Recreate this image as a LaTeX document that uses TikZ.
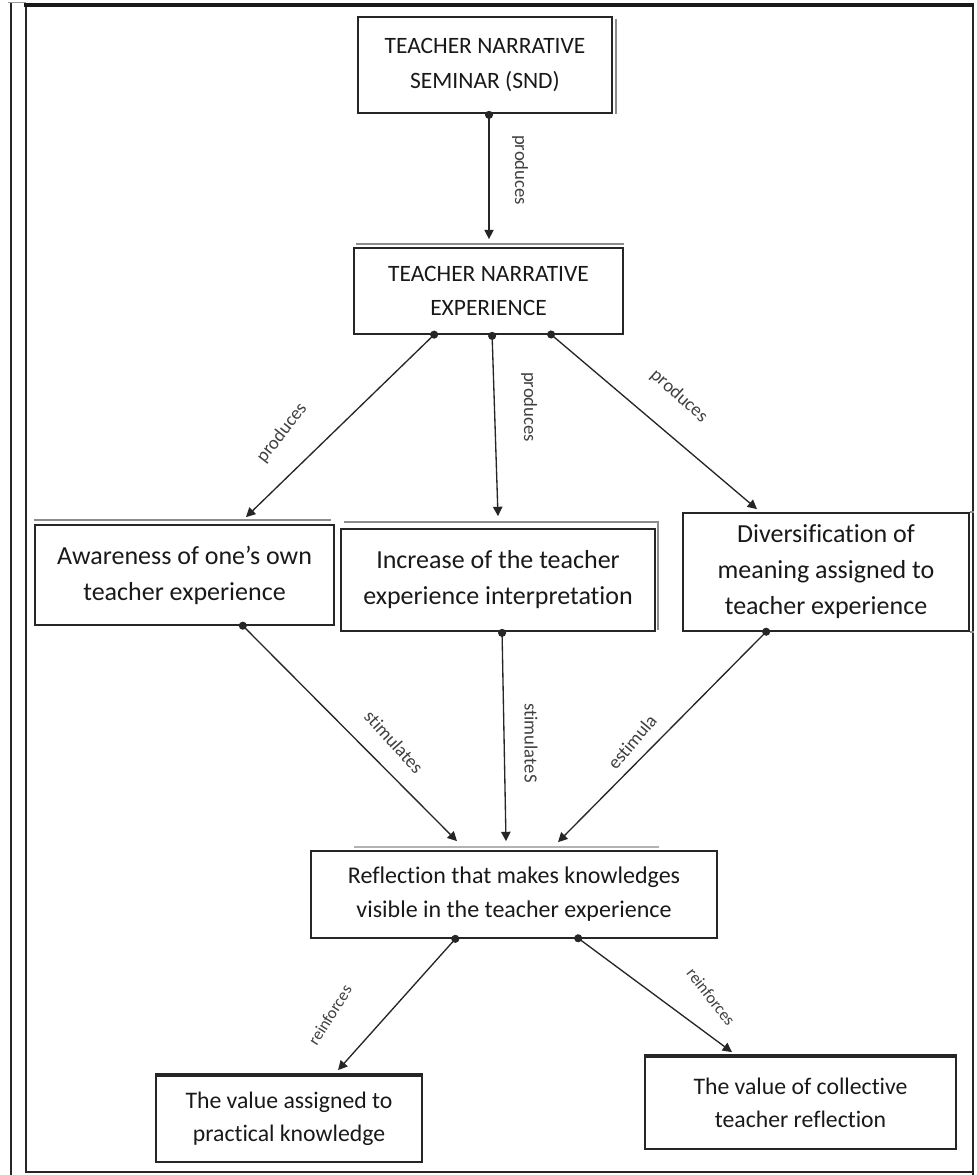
\documentclass[tikz,border=0pt]{standalone}
\usepackage{fontspec}
\setmainfont{Carlito}[Ligatures={NoCommon}]
\usetikzlibrary{arrows.meta,calc}
\begin{document}
\begin{tikzpicture}[x=0.75pt,y=-0.75pt,
 box/.style={draw=black!85, line width=1.3pt, align=center, inner sep=0pt, anchor=center, text=black!90},
 capbox/.style={box, font=\fontsize{17.6}{26}\selectfont},
 midbox/.style={box, font=\fontsize{19.5}{27}\selectfont},
 lowbox/.style={box, font=\fontsize{18}{25.5}\selectfont},
 endbox/.style={box, font=\fontsize{17.8}{24.75}\selectfont},
 conn/.style={line width=1pt, draw=black!85, {Circle[length=6pt]}-{Triangle[length=7pt,width=7pt]}},
 lbl/.style={text=black!75, font=\fontsize{14}{16}\selectfont, inner sep=1pt},
 slbl/.style={text=black!75, font=\fontsize{12.5}{14}\selectfont, inner sep=1pt},
 shadowline/.style={draw=black!45, line width=1.2pt},
 frameline/.style={draw=black!85, line width=1.2pt}
]
\useasboundingbox (0,0) rectangle (977,1175);

% outer frame
\draw[draw=black!40, line width=0.6pt] (8,2.5) -- (26,2.5);
\draw[frameline] (11,3) -- (11,1175);
\draw[frameline] (26,5) -- (26,1172) -- (973,1172);
\draw[frameline] (973,5) -- (973,1175);
\draw[draw=black!90, line width=2.3pt] (24,5) -- (974,5);

% boxes
\node[capbox, minimum width=190.5pt, minimum height=72pt] (b1) at (485,65)
  {TEACHER NARRATIVE\\SEMINAR (SND)};
\node[capbox, minimum width=201.75pt, minimum height=64.5pt] (b2) at (488.5,291)
  {TEACHER NARRATIVE\\EXPERIENCE};
\node[midbox, minimum width=224.25pt, minimum height=75pt] (bA) at (184.5,575)
  {Awareness of one’s own\\teacher experience};
\node[midbox, minimum width=235.5pt, minimum height=76.5pt] (bB) at (498,580)
  {Increase of the teacher\\experience interpretation};
\node[midbox, minimum width=214.5pt, minimum height=88.5pt] (bC) at (826,572)
  {Diversification of\\meaning assigned to\\teacher experience};
\node[lowbox, minimum width=304.5pt, minimum height=65.25pt] (bR) at (514,894.5)
  {Reflection that makes knowledges\\visible in the teacher experience};
\node[endbox, minimum width=199.5pt, minimum height=64.5pt] (bL) at (289,1119)
  {The value assigned to\\practical knowledge};
\node[endbox, minimum width=233.25pt, minimum height=69pt] (bV) at (800.5,1103)
  {The value of collective\\teacher reflection};

% shadow lines of boxes
\draw[shadowline] ($(b1.north east)+(3,3)$) -- ($(b1.south east)+(3,0)$);
\draw[shadowline] ($(b2.north west)+(3,-3)$) -- ($(b2.north east)+(0,-3)$);
\draw[shadowline] ($(bA.north west)+(0,-4)$) -- ($(bA.north east)+(-4,-4)$);
\draw[shadowline] ($(bB.north west)+(4,-6)$) -- ($(bB.north east)+(2,-6)$) -- ($(bB.south east)+(2,-2)$);
\draw[shadowline] ($(bC.north east)+(0,0)$) -- ($(bC.north east)+(4,0)$);
\draw[shadowline] ($(bC.south east)+(0,0)$) -- ($(bC.south east)+(4,0)$);
\draw[draw=black!30, line width=1pt] ($(bR.north)+(-160,-3)$) -- ($(bR.north)+(145,-3)$);
\draw[draw=black!85, line width=1.2pt] ($(bL.north west)+(0,-1)$) -- ($(bL.north east)+(0,-1)$);
\draw[draw=black!85, line width=1.2pt] ($(bV.north west)+(0,-1)$) -- ($(bV.north east)+(0,-1)$);

% connectors
\draw[conn] ($(b1.south)+(4,-3)$) -- ($(b2.north)+(0.5,-8)$);
\draw[conn] ($(b2.south)+(-51.5,-3)$) -- ($(bA.north)+(61.5,-7)$);
\draw[conn] ($(b2.south)+(3.5,-3)$) -- ($(bB.north)+(0,-12)$);
\draw[conn] ($(b2.south)+(59.5,-3)$) -- ($(bC.north)+(-69,-3)$);
\draw[conn] ($(bA.south)+(55.5,-3)$) -- ($(bR.north)+(-57,-9)$);
\draw[conn] ($(bB.south)+(4,-3)$) -- ($(bR.north)+(-8,-9)$);
\draw[conn] ($(bC.south)+(-57,-3)$) -- ($(bR.north)+(44,-8)$);
\draw[conn] ($(bR.south)+(-56,-3)$) -- ($(bL.north)+(49,-5)$);
\draw[conn] ($(bR.south)+(61,-3)$) -- ($(bV.north)+(-68.5,-4)$);

% labels
\node[lbl, rotate=-90] (l1) at (520,170) {produces};
\node[lbl, rotate=52] (l2) at (282,433) {produces};
\node[lbl, rotate=-90] (l3) at (529,407) {produces};
\node[lbl, rotate=-42] (l4) at (679,396) {produces};
\node[lbl, rotate=-48] (l5) at (394,742) {stimulates};
\node[lbl, rotate=-90] (l6) at (531,743) {stimulateS};
\node[lbl, rotate=50] (l7) at (632,742) {estimula};
\node[slbl, rotate=58] (l8) at (330,1015) {reinforces};
\node[slbl, rotate=-52] (l9) at (711,997) {reinforces};
\end{tikzpicture}
\end{document}
